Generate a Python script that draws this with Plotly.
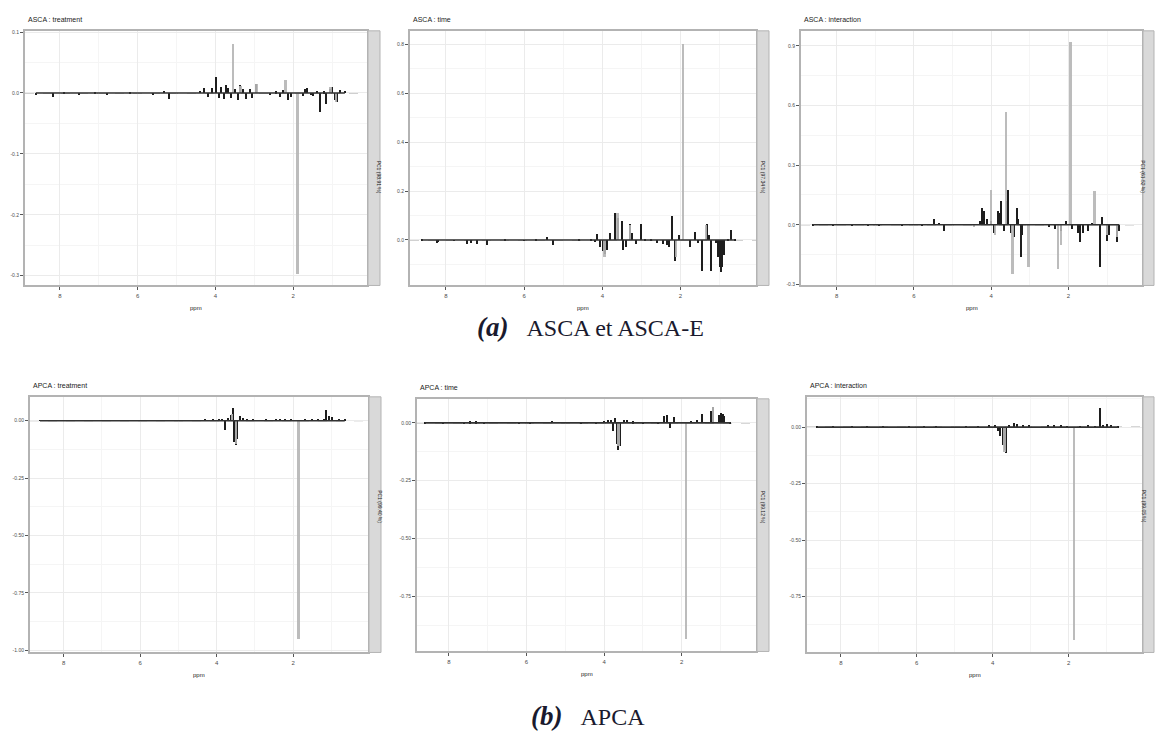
import plotly.graph_objects as go

# ---------------- data ----------------
titles = ["ASCA : treatment", "ASCA : time", "ASCA : interaction",
          "APCA : treatment", "APCA : time", "APCA : interaction"]
strip_labels = ["PC1 (98.91 %)", "PC1 (97.34 %)", "PC1 (61.52 %)",
                "PC1 (99.40 %)", "PC1 (99.12 %)", "PC1 (99.05 %)"]
x_ticks = [8, 6, 4, 2]

# ASCA : treatment
p1_dark_ppm = [8.62, 8.18, 7.9, 7.5, 7.1, 6.8, 6.2, 5.6, 5.33, 5.2, 4.4, 4.3, 4.2, 4.1, 4.0, 3.92, 3.85, 3.78,
               3.74, 3.68, 3.6, 3.5, 3.42, 3.36, 3.3, 3.22, 3.12, 3.05, 2.97, 2.6, 2.45, 2.35, 2.26, 2.13, 2.05,
               1.75, 1.7, 1.65, 1.55, 1.48, 1.4, 1.31, 1.2, 1.15, 1.05, 1.0, 0.92, 0.88, 0.8, 0.67]
p1_dark_val = [-0.002, -0.007, 0.002, -0.003, 0.002, -0.002, 0.002, -0.002, 0.004, -0.01, 0.004, 0.008, -0.006,
               0.009, 0.026, -0.008, 0.01, -0.01, 0.013, 0.008, -0.008, 0.007, -0.012, 0.013, 0.006, -0.01, 0.007,
               -0.008, 0.015, -0.003, 0.003, -0.006, 0.005, -0.012, -0.006, -0.004, 0.006, 0.008, -0.003, -0.005,
               0.004, -0.031, 0.003, -0.018, 0.006, 0.01, -0.012, -0.015, 0.005, 0.004]
p1_grey_ppm = [3.55, 1.9, 2.2, 3.36, 2.95, 1.05, 0.9]
p1_grey_val = [0.081, -0.297, 0.022, 0.012, 0.015, 0.01, -0.015]

# ASCA : time
p2_dark_ppm = [8.62, 8.24, 8.2, 7.8, 7.47, 7.35, 7.2, 6.96, 6.5, 6.0, 5.7, 5.43, 5.27, 4.6, 4.3, 4.2, 4.13, 4.05,
               3.98, 3.94, 3.88, 3.8, 3.68, 3.6, 3.51, 3.47, 3.4, 3.3, 3.25, 3.15, 3.02, 2.9, 2.75, 2.61, 2.45,
               2.36, 2.3, 2.23, 2.15, 2.05, 1.76, 1.63, 1.55, 1.46, 1.33, 1.28, 1.22, 1.1, 1.05, 1.0, 0.97, 0.93,
               0.9, 0.8, 0.7, 0.6]
p2_dark_val = [0.003, -0.01, -0.008, -0.003, -0.015, -0.01, -0.015, -0.02, 0.003, -0.003, 0.004, 0.012, -0.02,
               0.004, 0.006, -0.008, 0.025, -0.03, -0.045, -0.057, -0.04, 0.03, 0.112, 0.09, 0.078, -0.04, -0.03,
               0.065, 0.03, -0.015, 0.065, 0.005, 0.004, -0.01, -0.015, -0.02, -0.03, 0.1, -0.084, 0.02, -0.03,
               0.035, -0.01, -0.125, 0.065, 0.02, -0.125, -0.01, -0.07, -0.11, -0.13, -0.11, -0.06, 0.005, 0.04,
               0.003]
p2_grey_ppm = [1.95, 3.62, 3.3, 1.35, 2.12, 3.95]
p2_grey_val = [0.80, 0.11, 0.06, 0.06, -0.07, -0.07]

# ASCA : interaction
p3_dark_ppm = [8.62, 8.1, 7.6, 7.2, 6.9, 6.3, 5.8, 5.48, 5.35, 5.22, 4.7, 4.3, 4.24, 4.18, 4.1, 4.0, 3.92,
               3.83, 3.78, 3.74, 3.68, 3.6, 3.56, 3.5, 3.42, 3.34, 3.3, 3.24, 3.2, 2.5, 2.35, 2.2, 2.06, 1.9, 1.75,
               1.69, 1.62, 1.5, 1.4, 1.18, 1.12, 1.01, 0.95, 0.74, 0.68]
p3_dark_val = [-0.003, -0.005, -0.005, -0.004, -0.005, -0.003, -0.003, 0.03, 0.01, -0.03, 0.003, 0.02, 0.087,
               0.07, 0.03, 0.02, -0.04, 0.07, 0.06, 0.12, -0.03, 0.12, 0.178, -0.04, -0.06, 0.087, 0.03, -0.163,
               -0.05, -0.01, -0.02, -0.03, 0.02, -0.02, -0.04, -0.088, -0.04, -0.03, 0.01, -0.213, 0.04, -0.08,
               -0.05, -0.088, -0.03]
p3_grey_ppm = [4.45, 4.01, 3.62, 3.45, 3.04, 2.27, 2.2, 1.95, 1.33, 1.0, 0.75, 3.9]
p3_grey_val = [-0.012, 0.178, 0.57, -0.247, -0.213, -0.222, -0.1, 0.92, 0.173, -0.05, -0.06, -0.05]

# APCA : treatment
p4_dark_ppm = [8.62, 8.2, 7.8, 7.3, 7.0, 6.6, 5.9, 5.5, 5.2, 4.6, 4.3, 4.1, 3.95, 3.86, 3.78, 3.7, 3.62, 3.58,
               3.54, 3.5, 3.46, 3.4, 3.3, 3.2, 3.05, 2.7, 2.45, 2.35, 2.2, 2.05, 1.7, 1.5, 1.35, 1.2, 1.14, 1.05,
               0.98, 0.8, 0.65]
p4_dark_val = [0.002, 0.003, 0.002, 0.003, 0.002, 0.003, 0.002, 0.003, 0.002, 0.003, 0.006, 0.008, 0.006, 0.01,
               -0.04, 0.012, 0.025, 0.055, -0.09, -0.104, -0.08, 0.02, 0.012, 0.01, 0.01, 0.004, 0.006, 0.008,
               0.006, 0.004, 0.005, 0.006, 0.008, 0.01, 0.048, 0.02, 0.015, 0.005, 0.004]
p4_grey_ppm = [1.86, 3.5, 3.6]
p4_grey_val = [-0.95, -0.1, 0.03]

# APCA : time
p5_dark_ppm = [8.62, 8.15, 7.6, 7.45, 7.3, 7.1, 6.2, 5.9, 5.35, 4.6, 4.2, 4.0, 3.9, 3.82, 3.76, 3.72, 3.66,
               3.63, 3.58, 3.5, 3.4, 3.25, 3.0, 2.6, 2.45, 2.39, 2.3, 2.2, 1.75, 1.6, 1.48, 1.25, 1.2, 1.05, 1.0,
               0.95, 0.9, 0.75]
p5_dark_val = [0.002, 0.004, 0.006, 0.007, 0.007, 0.005, 0.003, 0.003, 0.01, 0.003, 0.006, 0.01, 0.015, 0.012,
               -0.036, 0.02, -0.09, -0.115, -0.1, 0.015, 0.012, 0.008, 0.005, 0.006, 0.03, 0.036, -0.02, 0.025,
               0.01, 0.012, 0.04, 0.05, 0.071, 0.035, 0.043, 0.04, 0.03, 0.005]
p5_grey_ppm = [1.89, 3.63, 1.2]
p5_grey_val = [-0.935, -0.1, 0.07]

# APCA : interaction
p6_dark_ppm = [8.62, 8.2, 7.7, 7.3, 6.9, 6.2, 5.8, 5.5, 4.7, 4.4, 4.1, 3.95, 3.87, 3.81, 3.74, 3.68, 3.64, 3.58,
               3.45, 3.35, 3.2, 3.05, 2.55, 2.4, 2.2, 2.05, 1.7, 1.5, 1.3, 1.18, 1.1, 1.0, 0.9, 0.7]
p6_dark_val = [0.002, 0.004, 0.003, 0.004, 0.003, 0.002, 0.004, 0.005, 0.004, 0.006, 0.008, 0.012, -0.015,
               -0.04, -0.08, -0.1, -0.115, 0.012, 0.02, 0.015, 0.01, 0.008, 0.01, 0.012, 0.008, 0.006, 0.006,
               0.008, 0.006, 0.084, 0.01, 0.015, 0.012, 0.004]
p6_grey_ppm = [1.87, 3.7]
p6_grey_val = [-0.944, -0.11]

y_tickvals = [[0.1, 0.0, -0.1, -0.2, -0.3],
              [0.8, 0.6, 0.4, 0.2, 0.0],
              [0.9, 0.6, 0.3, 0.0, -0.3],
              [0.0, -0.25, -0.5, -0.75, -1.0],
              [0.0, -0.25, -0.5, -0.75],
              [0.0, -0.25, -0.5, -0.75]]
y_ticktext = [["0.1", "0.0", "-0.1", "-0.2", "-0.3"],
              ["0.8", "0.6", "0.4", "0.2", "0.0"],
              ["0.9", "0.6", "0.3", "0.0", "-0.3"],
              ["0.00", "-0.25", "-0.50", "-0.75", "-1.00"],
              ["0.00", "-0.25", "-0.50", "-0.75"],
              ["0.00", "-0.25", "-0.50", "-0.75"]]

series = [(p1_dark_ppm, p1_dark_val, p1_grey_ppm, p1_grey_val),
          (p2_dark_ppm, p2_dark_val, p2_grey_ppm, p2_grey_val),
          (p3_dark_ppm, p3_dark_val, p3_grey_ppm, p3_grey_val),
          (p4_dark_ppm, p4_dark_val, p4_grey_ppm, p4_grey_val),
          (p5_dark_ppm, p5_dark_val, p5_grey_ppm, p5_grey_val),
          (p6_dark_ppm, p6_dark_val, p6_grey_ppm, p6_grey_val)]

# ---------------- layout (pixels) ----------------
W, H = 1155, 736
# panel boxes: left, right, top, bottom (px)
boxes = [(25, 367, 29, 285), (410, 756, 29, 285), (801, 1142, 29, 285),
         (30, 368, 397, 654), (417, 756, 399, 653), (807, 1142, 397, 654)]
x_ranges = [(8.9, 0.1), (8.92, 0.07), (8.92, 0.095), (8.88, 0.04), (8.82, 0.085), (8.89, 0.07)]
y_ranges = [(-0.316, 0.102), (-0.186, 0.855), (-0.305, 0.975), (-1.01, 0.104), (-0.988, 0.104), (-0.998, 0.134)]
y_minor = [0.05, 0.1, 0.15, 0.125, 0.125, 0.125]


def fx(p):
    return p / W


def fy(p):
    return 1 - p / H


fig = go.Figure()
shapes = []
annotations = []
layout = {}
grid = "#ebebeb"
minor_grid = "#f5f5f5"
border = "#b3b3b3"

for i in range(6):
    k = "" if i == 0 else str(i + 1)
    xa, ya = "x" + k, "y" + k
    l, r, t, b = boxes[i]
    dppm, dval, gppm, gval = series[i]
    all_ppm = dppm + gppm
    # baseline segment spanning the spectrum
    fig.add_trace(go.Scatter(x=[max(all_ppm), min(all_ppm)], y=[0, 0], mode="lines",
                             line=dict(color="#333333", width=1.6), xaxis=xa, yaxis=ya,
                             showlegend=False, hoverinfo="skip"))
    fig.add_trace(go.Bar(x=dppm, y=dval, width=0.03, marker=dict(color="#1e1e1e", line=dict(width=0)),
                         xaxis=xa, yaxis=ya, showlegend=False))
    fig.add_trace(go.Bar(x=gppm, y=gval, width=0.05, marker=dict(color="#b5b5b5", line=dict(width=0)),
                         opacity=0.9, xaxis=xa, yaxis=ya, showlegend=False))

    layout["xaxis" + k] = dict(domain=[fx(l), fx(r)], range=list(x_ranges[i]), anchor=ya,
                               tickvals=x_ticks, ticktext=[str(v) for v in x_ticks],
                               showgrid=True, gridcolor=grid, gridwidth=1,
                               minor=dict(dtick=1, tick0=0, showgrid=True, gridcolor=minor_grid, ticks=""),
                               ticks="outside", ticklen=3, tickcolor="#555555", tickwidth=1,
                               tickfont=dict(size=6, color="#4d4d4d"),
                               showline=True, mirror=True, linecolor=border, linewidth=2,
                               zeroline=False)
    layout["yaxis" + k] = dict(domain=[fy(b), fy(t)], range=list(y_ranges[i]), anchor=xa,
                               tickvals=y_tickvals[i], ticktext=y_ticktext[i],
                               showgrid=True, gridcolor=grid, gridwidth=1,
                               minor=dict(dtick=y_minor[i], tick0=0, showgrid=True, gridcolor=minor_grid, ticks=""),
                               ticks="outside", ticklen=3, tickcolor="#555555", tickwidth=1,
                               tickfont=dict(size=5, color="#4d4d4d"),
                               showline=True, mirror=True, linecolor=border, linewidth=2,
                               zeroline=False)
    # dashed zero reference
    shapes.append(dict(type="line", xref=xa + " domain", yref=ya, x0=0, x1=1, y0=0, y1=0,
                       line=dict(color="#9a9a9a", width=1, dash="dash"), layer="below"))
    # facet strip
    sr = min(r + 13, W - 1)
    shapes.append(dict(type="rect", xref="paper", yref="paper", x0=fx(r + 1), x1=fx(sr), y0=fy(b), y1=fy(t),
                       fillcolor="#d9d9d9", line=dict(color=border, width=1)))
    annotations.append(dict(xref="paper", yref="paper", x=fx((r + 1 + sr) / 2), y=fy((t + b) / 2),
                            text=strip_labels[i], textangle=90, showarrow=False,
                            font=dict(size=5, color="#1a1a1a", family="Liberation Sans")))
    # panel title
    annotations.append(dict(xref="paper", yref="paper", x=fx(l + 1), y=fy(t - 6), xanchor="left",
                            yanchor="bottom", text=titles[i], showarrow=False,
                            font=dict(size=7, color="#1a1a1a", family="Liberation Sans")))
    # x axis title
    annotations.append(dict(xref="paper", yref="paper", x=fx((l + r) / 2), y=fy(b + 18), xanchor="center",
                            yanchor="top", text="ppm", showarrow=False,
                            font=dict(size=6, color="#1a1a1a", family="Liberation Sans")))

# sub-figure captions
annotations.append(dict(xref="paper", yref="paper", x=fx(590), y=fy(327), xanchor="center", yanchor="middle",
                        text="<b><i><span style='font-size:27px'>(a)</span></i></b>&nbsp;&nbsp;&nbsp;ASCA et ASCA-E",
                        showarrow=False,
                        font=dict(size=24, color="#1a1a2e", family="Liberation Serif")))
annotations.append(dict(xref="paper", yref="paper", x=fx(588), y=fy(718), xanchor="center", yanchor="middle",
                        text="<b><i><span style='font-size:27px'>(b)</span></i></b>&nbsp;&nbsp;&nbsp;APCA",
                        showarrow=False,
                        font=dict(size=24, color="#1a1a2e", family="Liberation Serif")))

fig.update_layout(width=W, height=H, margin=dict(l=0, r=0, t=0, b=0),
                  paper_bgcolor="white", plot_bgcolor="white", barmode="overlay", bargap=0,
                  shapes=shapes, annotations=annotations, showlegend=False,
                  font=dict(family="Liberation Sans"), **layout)

fig.write_html("out.html", config={"displayModeBar": False},
               post_script="document.body.style.margin='0px';document.body.style.padding='0px';")
